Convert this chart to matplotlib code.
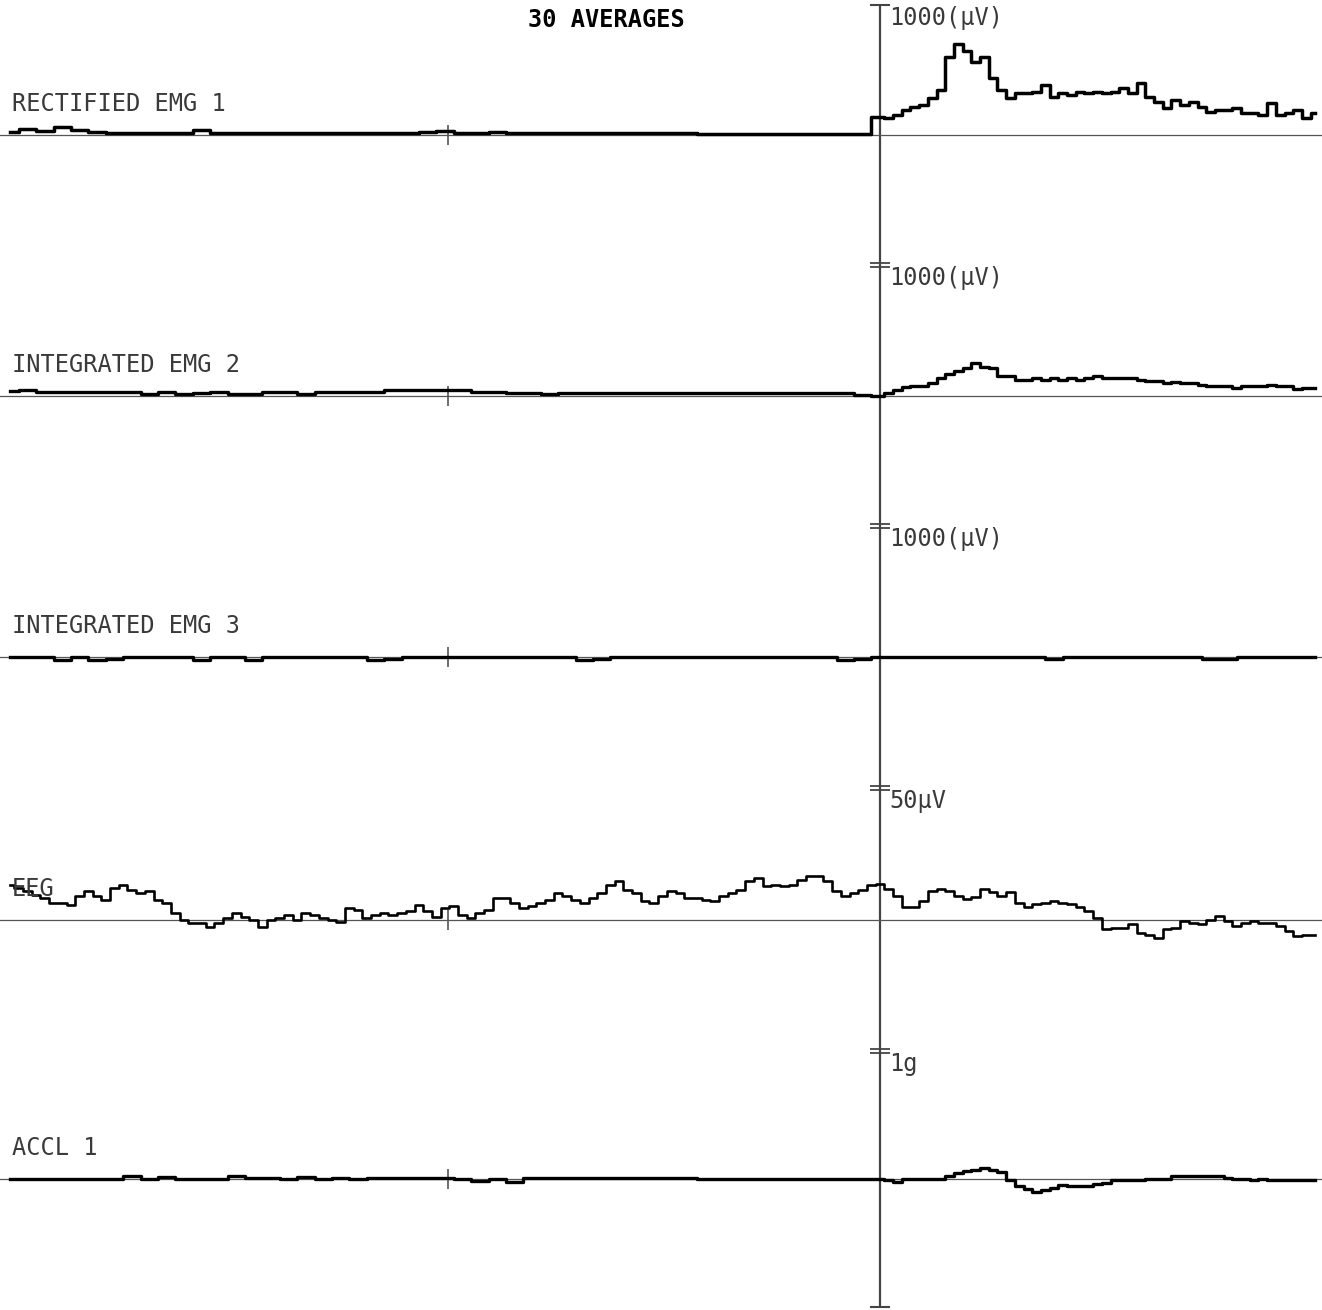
import numpy as np
import matplotlib
matplotlib.use('Agg')
import matplotlib.pyplot as plt
from matplotlib.transforms import offset_copy

# sample times in ms (stimulus at 0)
t_pre = np.arange(-1000, 0, 20)
t_post = np.arange(0, 501, 10)
t_full20 = np.arange(-1000, 501, 20)
t_eeg = np.arange(-1000, 501, 10)

channels = ["RECTIFIED EMG 1", "INTEGRATED EMG 2", "INTEGRATED EMG 3", "EEG", "ACCL 1"]
scale_labels = ["1000(µV)", "1000(µV)", "1000(µV)", "50µV", "1g"]
full_scale = [1000, 1000, 1000, 50, 1]

emg1_pre = [25, 45, 30, 60, 35, 20, 15, 15, 15, 15,
            15, 35, 15, 15, 15, 15, 15, 15, 15, 15,
            15, 15, 15, 15, 25, 30, 15, 15, 25, 15,
            15, 15, 15, 15, 15, 15, 15, 15, 15, 15,
            10, 10, 10, 10, 10, 10, 10, 10, 5, 5]
emg1_post = [141, 128, 154, 193, 218, 231, 283, 347, 600, 700,
             643, 565, 600, 437, 347, 283, 321, 321, 334, 385,
             296, 321, 308, 334, 321, 334, 321, 334, 360, 321,
             398, 296, 257, 205, 270, 231, 257, 218, 180, 193,
             193, 205, 167, 167, 154, 244, 154, 167, 193, 128,
             167]

emg2_pre = [35, 40, 25, 25, 25, 25, 25, 25, 10, 25,
            12, 20, 25, 12, 15, 25, 25, 12, 25, 25,
            25, 28, 42, 45, 45, 42, 40, 25, 25, 22,
            22, 15, 22, 22, 22, 22, 22, 22, 22, 22,
            22, 22, 20, 20, 20, 20, 20, 20, 20, 5]
emg2_post = [-5, 20, 40, 65, 71, 71, 96, 134, 168, 185,
             210, 248, 218, 210, 152, 147, 122, 122, 134, 122,
             134, 117, 134, 117, 134, 152, 134, 134, 134, 134,
             122, 109, 109, 96, 100, 96, 96, 84, 76, 76,
             76, 58, 76, 71, 76, 84, 76, 76, 53, 58,
             58]

emg3 = [0, 0, 0, -20, 0, -20, -15, 0, 0, 0,
        0, -20, 0, 0, -20, 0, 0, 0, 0, 0,
        0, -20, -15, 0, 0, 0, 0, 0, 0, 0,
        0, 0, 0, -20, -15, 0, 0, 0, 0, 0,
        0, 0, 0, 0, 0, 0, 0, 0, -20, -15,
        0, 0, 0, 0, 0, 0, 0, 0, 0, 0,
        -15, 0, 0, 0, 0, 0, 0, 0, 0, -15,
        -15, 0, 0, 0, 0, 0]

eeg = [13, 12, 10.8, 9.5, 8.2, 6.3, 6.3, 5.6, 8.8, 10.8,
       8.8, 7.5, 12, 13.3, 11.4, 10.1, 10.8, 7.5, 6.3, 2.4,
       -0.1, -1.4, -1.4, -2.7, -1.4, 0.5, 2.4, 1.1, -0.1, -2.7,
       -0.1, 0.5, 1.8, -0.1, 2.4, 1.8, 0.5, -0.1, -0.8, 4.4,
       3.7, 0.5, 1.8, 2.4, 1.8, 2.4, 3.1, 5.6, 3.1, 1.1,
       4.4, 5.0, 1.8, 0.5, 2.4, 3.7, 8.2, 8.2, 6.3, 4.4,
       5.0, 6.3, 7.5, 10.1, 8.8, 7.5, 6.3, 8.2, 10.1, 13.3,
       14.6, 11.4, 10.1, 6.9, 6.3, 8.8, 10.8, 10.1, 8.2, 8.2,
       7.5, 6.9, 8.8, 10.1, 11.4, 14.6, 15.8, 12.6, 13.3, 12.6,
       13.3, 15.2, 16.5, 16.5, 14.6, 10.8, 8.8, 10.1, 11.4, 13.3,
       13.5, 11.6, 9.0, 4.9, 4.6, 7.2, 10.8, 11.6, 10.8, 8.9,
       7.7, 8.5, 11.6, 10.3, 8.9, 10.3, 6.4, 4.6, 5.8, 6.4,
       7.2, 6.4, 5.8, 4.6, 3.3, 0.6, -3.8, -3.2, -3.2, -1.9,
       -5.1, -5.8, -7.1, -3.8, -3.2, -0.6, -1.3, -1.9, 0.0, 1.3,
       -0.6, -2.6, -1.3, -0.6, -1.3, -1.3, -2.6, -4.5, -6.4, -5.8,
       -5.8]

accl_pre = [0, 0, 0, 0, 0, 0, 0, 0.02, 0.0, 0.015,
            0.0, 0.0, 0.0, 0.02, 0.01, 0.01, 0.0, 0.015, 0.0, 0.01,
            0.0, 0.01, 0.01, 0.01, 0.01, 0.01, 0.0, -0.015, 0.0, -0.02,
            0.01, 0.01, 0.01, 0.01, 0.01, 0.01, 0.01, 0.01, 0.01, 0.01,
            0.0, 0.0, 0.0, 0.0, 0.0, 0.0, 0.0, 0.0, 0.0, 0.0]
accl_post = [0, -0.01, -0.02, 0, 0, 0, 0, 0, 0.026, 0.046,
             0.059, 0.067, 0.085, 0.072, 0.051, -0.01, -0.051, -0.082, -0.103, -0.087,
             -0.069, -0.044, -0.051, -0.056, -0.056, -0.036, -0.031, -0.01, -0.01, -0.01,
             -0.01, 0, 0, 0, 0.026, 0.026, 0.026, 0.026, 0.026, 0.026,
             0.008, 0, 0, -0.005, 0, -0.01, -0.01, -0.01, -0.01, -0.01,
             -0.01]

traces = [
    (np.concatenate([t_pre, t_post]), emg1_pre + emg1_post, 2.5),
    (np.concatenate([t_pre, t_post]), emg2_pre + emg2_post, 2.4),
    (t_full20, emg3, 2.4),
    (t_eeg, eeg, 1.9),
    (np.concatenate([t_pre, t_post]), accl_pre + accl_post, 2.4),
]

W, H = 1322, 1310
fig = plt.figure(figsize=(W / 100, H / 100), dpi=100)
band_edges = [5, 265, 526, 788, 1051, 1307]
mono = 'DejaVu Sans Mono'
grey = '#3a3a3a'

for i, (t, v, lw) in enumerate(traces):
    top, bot = band_edges[i], band_edges[i + 1]
    fs = full_scale[i]
    ax = fig.add_axes([0, 1 - bot / H, 1, (bot - top) / H])
    ax.set_xlim(-1011.5, 508)
    ax.set_ylim(-fs, fs)
    ax.axis('off')

    # time axis at stimulus and thin zero line
    ax.axvline(0, color='#444444', lw=1.6, zorder=1)
    ax.axhline(0, color='#555555', lw=0.9, zorder=1)
    ax.plot([-497], [0], marker='|', ms=14, mew=1.2, color='#555555')

    # scale bars on the vertical axis
    if i == 0:
        ax.plot([0], [fs], marker='_', ms=14, mew=1.5, color='#444444', clip_on=False)
    else:
        for dy in (-2, 2):
            tr = offset_copy(ax.transData, fig=fig, y=dy, units='dots')
            ax.plot([0], [fs], marker='_', ms=14, mew=1.3, color='#444444',
                    clip_on=False, transform=tr)
    if i == len(traces) - 1:
        ax.plot([0], [-fs], marker='_', ms=14, mew=1.5, color='#444444', clip_on=False)

    ax.plot(t, v, color='black', lw=lw, drawstyle='steps-mid', zorder=3)

    ax.annotate(channels[i], xy=(0, 0), xycoords=('axes fraction', 'data'),
                xytext=(12, 31), textcoords='offset pixels', ha='left', va='center',
                fontsize=17, family=mono, color=grey)
    ax.annotate(scale_labels[i], xy=(0, fs), xycoords='data',
                xytext=(9, -13), textcoords='offset pixels', ha='left', va='center',
                fontsize=17, family=mono, color=grey)

fig.text(606 / W, 1 - 20 / H, '30 AVERAGES', ha='center', va='center',
         fontsize=17, fontweight='bold', family=mono, color='black')

fig.savefig('out.png', dpi=100, facecolor='white')
